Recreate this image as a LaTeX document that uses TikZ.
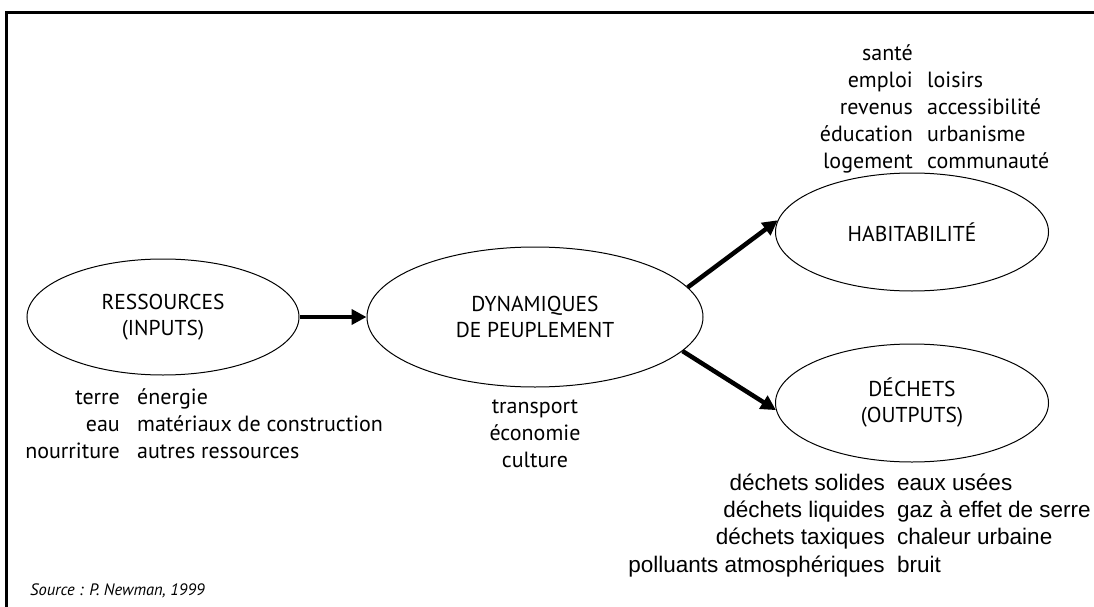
\documentclass[tikz,border=0pt]{standalone}
\usepackage{fontspec}
\setmainfont{PT Sans}
\newfontfamily\arialfont{Liberation Sans}
\usetikzlibrary{shapes.geometric,arrows.meta,positioning}

\begin{document}
\begin{tikzpicture}[x=1pt,y=-1pt,
    bulle/.style={ellipse,draw,line width=1pt,align=center,inner sep=0pt,
        font=\fontsize{21.5}{26}\selectfont},
    fleche/.style={line width=4.5pt,-{Triangle[length=15pt,width=15pt]}},
    liste/.style={inner sep=0pt,font=\fontsize{22}{27}\selectfont}]
    \useasboundingbox (0,0) rectangle (1094,607);
    \draw[line width=3pt] (6.5,607) -- (6.5,13) -- (1094,13);

    \node[bulle,minimum width=272pt,minimum height=116pt] (ress) at (163,317) {RESSOURCES\\(INPUTS)};
    \node[bulle,minimum width=336pt,minimum height=140pt] (dyn) at (535,317) {DYNAMIQUES\\DE PEUPLEMENT};
    \node[bulle,minimum width=273pt,minimum height=118pt] (hab) at (912,232) {HABITABILITÉ};
    \node[bulle,minimum width=273pt,minimum height=118pt] (dech) at (912,403) {DÉCHETS\\(OUTPUTS)};

    \draw[fleche] (ress) -- (dyn);
    \draw[fleche] (dyn.11) -- (hab.175);
    \draw[fleche] (dyn.-13) -- (dech.183);

    \node[liste,anchor=north east,align=right] (ress g) at (120,385)
        {\strut terre\\\strut eau\\\strut nourriture};
    \node[liste,anchor=north west,align=left] (ress d) at (137,385)
        {\strut énergie\\\strut matériaux de construction\\\strut autres ressources};
    \node[liste,align=center,below=7pt of dyn] (dyn l)
        {\strut transport\\\strut économie\\\strut culture};
    \node[liste,anchor=north east,align=right] (hab g) at (913,41)
        {\strut santé\\\strut emploi\\\strut revenus\\\strut éducation\\\strut logement};
    \node[liste,anchor=north west,align=left] (hab d) at (927,41)
        {\strut\\\strut loisirs\\\strut accessibilité\\\strut urbanisme\\\strut communauté};
    \node[liste,font=\arialfont\fontsize{22.5}{27.3}\selectfont,anchor=north east,align=right] (dech g) at (885,471)
        {\strut déchets solides\\\strut déchets liquides\\\strut déchets taxiques\\\strut polluants atmosphériques};
    \node[liste,font=\arialfont\fontsize{22.5}{27.3}\selectfont,anchor=north west,align=left] (dech d) at (897,471)
        {\strut eaux usées\\\strut gaz à effet de serre\\\strut chaleur urbaine\\\strut bruit};

    \node[inner sep=0pt,anchor=base west,font=\itshape\fontsize{16.5}{18}\selectfont] (source) at (30,595)
        {Source : P. Newman, 1999};
\end{tikzpicture}
\end{document}
